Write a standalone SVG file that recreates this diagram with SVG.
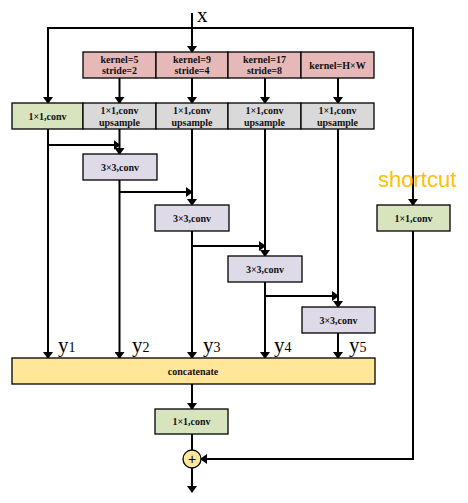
<svg xmlns="http://www.w3.org/2000/svg" width="468" height="503" viewBox="0 0 468 503">
<style>
.box{stroke:#000;stroke-width:1.3}
.pink{fill:#E6B9B8}
.gray{fill:#D9D9D9}
.green{fill:#D7E4BD}
.lav{fill:#DEDAE8}
.yel{fill:#FFE699}
.t{font-family:"Liberation Serif","Times New Roman",serif;font-weight:bold;font-size:10px;fill:#111;text-anchor:middle}
.lbl{font-family:"Liberation Serif","Times New Roman",serif;font-size:21px;fill:#000}
.sub{font-size:14px}
.ln{fill:none;stroke:#000;stroke-width:2}
</style>
<defs>
<marker id="ah" markerUnits="userSpaceOnUse" markerWidth="7" markerHeight="10" refX="6" refY="5" orient="auto">
<path d="M0,0 L7,5 L0,10 z" fill="#000"/>
</marker>
</defs>
<g id="connectors">
<path class="ln" d="M192,13 L192,52" marker-end="url(#ah)"/>
<path class="ln" d="M48,28 L413,28 L413,205" marker-end="url(#ah)"/>
<path class="ln" d="M48,27 L48,103" marker-end="url(#ah)"/>
<path class="ln" d="M119.5,78 L119.5,103" marker-end="url(#ah)"/>
<path class="ln" d="M192,78 L192,103" marker-end="url(#ah)"/>
<path class="ln" d="M265,78 L265,103" marker-end="url(#ah)"/>
<path class="ln" d="M338,78 L338,103" marker-end="url(#ah)"/>
<path class="ln" d="M48,129 L48,358" marker-end="url(#ah)"/>
<path class="ln" d="M119.5,129 L119.5,154" marker-end="url(#ah)"/>
<path class="ln" d="M48,145 L119.5,145" marker-end="url(#ah)"/>
<path class="ln" d="M119.5,180 L119.5,358" marker-end="url(#ah)"/>
<path class="ln" d="M119.5,192 L192,192" marker-end="url(#ah)"/>
<path class="ln" d="M192,129 L192,205" marker-end="url(#ah)"/>
<path class="ln" d="M192,231 L192,358" marker-end="url(#ah)"/>
<path class="ln" d="M192,246 L265,246" marker-end="url(#ah)"/>
<path class="ln" d="M265,129 L265,256" marker-end="url(#ah)"/>
<path class="ln" d="M265,282 L265,358" marker-end="url(#ah)"/>
<path class="ln" d="M265,296 L338,296" marker-end="url(#ah)"/>
<path class="ln" d="M338,129 L338,307" marker-end="url(#ah)"/>
<path class="ln" d="M338,333 L338,358" marker-end="url(#ah)"/>
<path class="ln" d="M192,384 L192,409" marker-end="url(#ah)"/>
<path class="ln" d="M192,434 L192,450"/>
<path class="ln" d="M413,231 L413,459 L201,459" marker-end="url(#ah)"/>
<path class="ln" d="M192,468 L192,492" marker-end="url(#ah)"/>
</g>
<text class="lbl" x="197" y="22">x</text>
<g id="pool1"><rect class="box pink" x="83" y="52" width="73" height="26"/><text class="t" x="119.5" y="63">kernel=5</text><text class="t" x="119.5" y="74">stride=2</text></g>
<g id="pool2"><rect class="box pink" x="156" y="52" width="72" height="26"/><text class="t" x="192" y="63">kernel=9</text><text class="t" x="192" y="74">stride=4</text></g>
<g id="pool3"><rect class="box pink" x="228" y="52" width="73" height="26"/><text class="t" x="264.5" y="63">kernel=17</text><text class="t" x="264.5" y="74">stride=8</text></g>
<g id="pool4"><rect class="box pink" x="301" y="52" width="73" height="26"/><text class="t" x="337.5" y="69">kernel=H×W</text></g>
<g id="conv0"><rect class="box green" x="12" y="103" width="71" height="26"/><text class="t" x="47.5" y="120">1×1,conv</text></g>
<g id="up1"><rect class="box gray" x="83" y="103" width="73" height="26"/><text class="t" x="119.5" y="114">1×1,conv</text><text class="t" x="119.5" y="126">upsample</text></g>
<g id="up2"><rect class="box gray" x="156" y="103" width="72" height="26"/><text class="t" x="192" y="114">1×1,conv</text><text class="t" x="192" y="126">upsample</text></g>
<g id="up3"><rect class="box gray" x="228" y="103" width="73" height="26"/><text class="t" x="264.5" y="114">1×1,conv</text><text class="t" x="264.5" y="126">upsample</text></g>
<g id="up4"><rect class="box gray" x="301" y="103" width="73" height="26"/><text class="t" x="337.5" y="114">1×1,conv</text><text class="t" x="337.5" y="126">upsample</text></g>
<g id="c3a"><rect class="box lav" x="83" y="154" width="74" height="26"/><text class="t" x="120" y="171">3×3,conv</text></g>
<g id="c3b"><rect class="box lav" x="155" y="205" width="74" height="26"/><text class="t" x="192" y="222">3×3,conv</text></g>
<g id="c3c"><rect class="box lav" x="228" y="256" width="74" height="26"/><text class="t" x="265" y="273">3×3,conv</text></g>
<g id="c3d"><rect class="box lav" x="302" y="307" width="73" height="26"/><text class="t" x="338.5" y="324">3×3,conv</text></g>
<g id="shortcutconv"><rect class="box green" x="377" y="205" width="73" height="26"/><text class="t" x="413.5" y="222">1×1,conv</text></g>
<text x="378" y="187" font-family="'Liberation Sans',Arial,sans-serif" font-size="22" fill="#FFC000">shortcut</text>
<text class="lbl" x="58" y="352">y<tspan class="sub">1</tspan></text>
<text class="lbl" x="132" y="352">y<tspan class="sub">2</tspan></text>
<text class="lbl" x="203" y="352">y<tspan class="sub">3</tspan></text>
<text class="lbl" x="274" y="352">y<tspan class="sub">4</tspan></text>
<text class="lbl" x="349" y="352">y<tspan class="sub">5</tspan></text>
<g id="concat"><rect class="box yel" x="12" y="358" width="363" height="26"/><text class="t" x="193" y="375">concatenate</text></g>
<g id="convout"><rect class="box green" x="155" y="409" width="73" height="25"/><text class="t" x="191.5" y="425">1×1,conv</text></g>
<g id="add"><circle cx="192" cy="459" r="9" fill="#FFE699" stroke="#000" stroke-width="1.3"/><text x="192" y="464" font-family="'Liberation Sans',Arial,sans-serif" font-size="14" text-anchor="middle" fill="#000">+</text></g>
</svg>
